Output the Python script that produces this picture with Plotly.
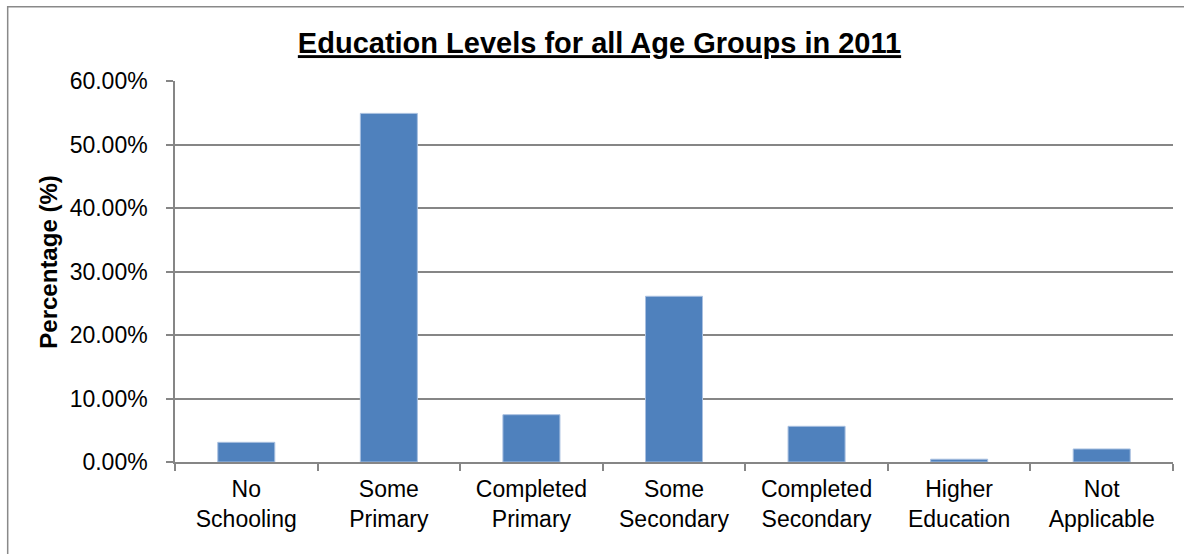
import plotly.graph_objs as go

# education level categories and their share (fractions)
categories = ['No<br>Schooling', 'Some<br>Primary', 'Completed<br>Primary', 'Some<br>Secondary',
              'Completed<br>Secondary', 'Higher<br>Education', 'Not<br>Applicable']
percentages = [0.031, 0.549, 0.0745, 0.261, 0.0562, 0.0044, 0.0205]
y_ticks = [0, 0.1, 0.2, 0.3, 0.4, 0.5, 0.6]

W, H = 1184, 554
ml, mr, mt, mb = 175, 10.5, 80.6, 92.2
pw, ph = W - ml - mr, H - mt - mb

def px_x(x):
    return (x - ml) / pw

def px_y(y):
    return (H - y - mb) / ph

fig = go.Figure()
fig.add_trace(go.Bar(
    x=categories,
    y=percentages,
    marker=dict(color='#4F81BD', line=dict(color='#A9C0E0', width=1)),
))

fig.update_layout(
    width=W, height=H,
    margin=dict(l=ml, r=mr, t=mt, b=mb),
    paper_bgcolor='white', plot_bgcolor='white',
    bargap=0.6,
    showlegend=False,
    font=dict(family='Liberation Sans, Arial, sans-serif', size=23, color='black'),
    title=dict(
        text='<b><u>Education Levels for all Age Groups in 2011</u></b>',
        font=dict(size=29, color='black'),
        x=599.5 / W, xref='container', xanchor='center',
        y=1 - 43 / H, yref='container', yanchor='middle',
    ),
    annotations=[dict(
        text='<b>Percentage (%)</b>', textangle=-90,
        x=px_x(48.3), y=px_y(262), xref='paper', yref='paper',
        showarrow=False, font=dict(size=24, color='black'),
        xanchor='center', yanchor='middle',
    )],
    shapes=[dict(
        type='rect', xref='paper', yref='paper',
        x0=px_x(7.6), x1=px_x(1195), y0=px_y(565), y1=px_y(6.4),
        line=dict(color='#898989', width=1.5), fillcolor='rgba(0,0,0,0)',
        layer='below',
    )],
)

fig.update_xaxes(
    showline=True, linecolor='#868686', linewidth=1.5,
    ticks='outside', tickson='boundaries', ticklen=7, tickcolor='#868686', tickwidth=1.5,
    showgrid=False, ticklabelstandoff=6,
)
fig.update_yaxes(
    range=[0, 0.6], tickvals=y_ticks, tickformat='.2%',
    showline=True, linecolor='#868686', linewidth=1.5,
    ticks='outside', ticklen=7, tickcolor='#868686', tickwidth=1.5,
    showgrid=True, gridcolor='#868686', gridwidth=1.5,
    zeroline=False, ticklabelstandoff=14,
)

# drop the default page margin so the figure sits at the window's top-left
fig.write_html('out.html', config={'displayModeBar': False},
               post_script="document.body.style.margin='0px';")
